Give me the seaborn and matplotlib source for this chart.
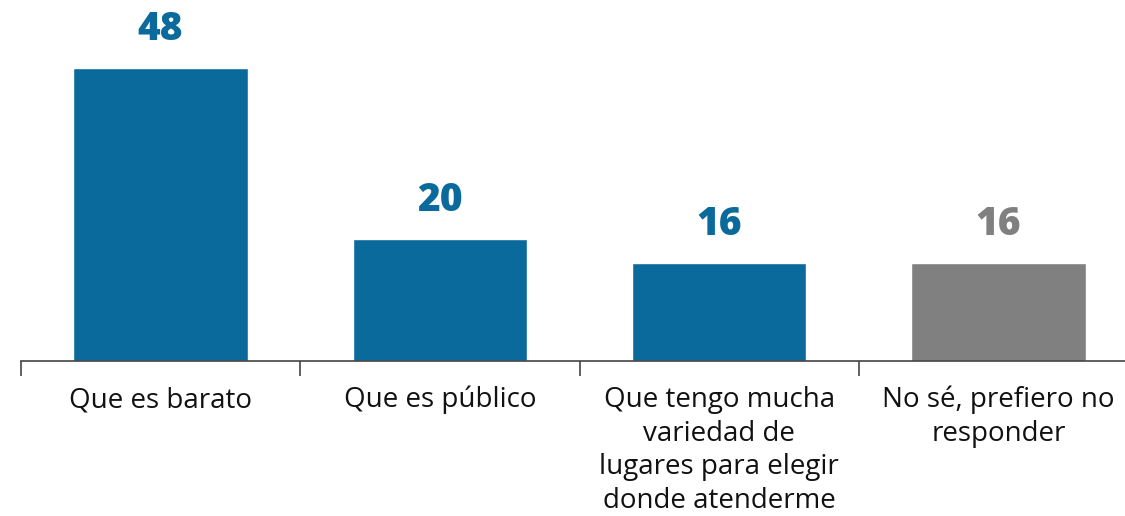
import matplotlib
matplotlib.use("Agg")
import matplotlib.pyplot as plt
import seaborn as sns
import pandas as pd

# datos
categorias = ["Que es barato", "Que es público",
              "Que tengo mucha\nvariedad de\nlugares para elegir\ndonde atenderme",
              "No sé, prefiero no\nresponder"]
valores = [48, 20, 16, 16]
colores = ["#0B6A9C", "#0B6A9C", "#0B6A9C", "#808080"]

df = pd.DataFrame({"categoria": categorias, "valor": valores})

sns.set_style("white")
plt.rcParams["font.family"] = ["Open Sans", "DejaVu Sans"]

fig = plt.figure(figsize=(11.25, 5.16), dpi=100)
ax = fig.add_axes([21 / 1125, 155 / 516, 1117 / 1125, 361 / 516])

sns.barplot(data=df, x="categoria", y="valor", hue="categoria",
            palette=colores, width=0.625, legend=False, ax=ax, saturation=1)

ax.set_xlim(-0.5, 3.5)
ax.set_ylim(0, 59.2)

# etiquetas de valor
for i, (v, c) in enumerate(zip(valores, colores)):
    ax.text(i, v + 3.2, str(v), ha="center", va="bottom", fontsize=28,
            fontweight="heavy", color=c)

ax.set_xlabel("")
ax.set_ylabel("")
ax.set_yticks([])
ax.set_xticks(range(len(categorias)))
ax.set_xticklabels(categorias, fontsize=20, color="#111111", linespacing=1.27)
ax.tick_params(axis="x", which="major", bottom=True, length=0, pad=18)
ax.set_xticks([-0.5, 0.5, 1.5, 2.5, 3.5], minor=True)
ax.tick_params(axis="x", which="minor", bottom=True, length=11, width=1.2,
               color="#444444", direction="out")

for s in ["top", "right", "left"]:
    ax.spines[s].set_visible(False)
ax.spines["bottom"].set_color("#444444")
ax.spines["bottom"].set_linewidth(1.2)

fig.savefig("out.png", dpi=100)
